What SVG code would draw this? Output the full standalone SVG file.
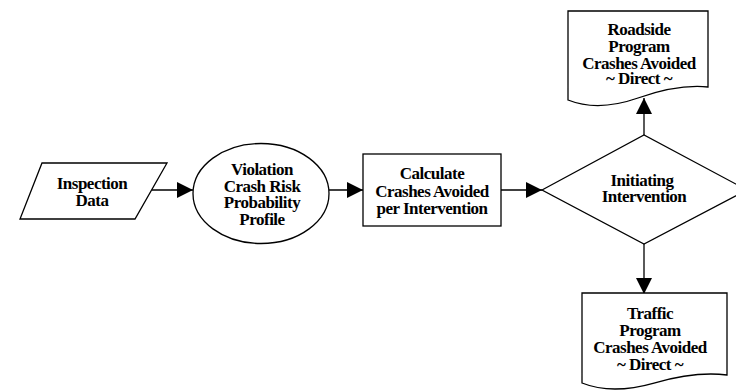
<svg xmlns="http://www.w3.org/2000/svg" width="736" height="390" viewBox="0 0 736 390">
  <style>
    .shape { fill: #ffffff; stroke: #000000; stroke-width: 1.3; }
    .edge { fill: none; stroke: #000000; stroke-width: 1.3; }
    .label { font-family: "Liberation Serif", "Times New Roman", serif; font-weight: bold; font-size: 17px; fill: #000000; text-anchor: middle; letter-spacing: -0.5px; }
  </style>
  <defs>
    <marker id="arrow" markerUnits="userSpaceOnUse" markerWidth="16" markerHeight="16" viewBox="0 0 14 14" refX="14" refY="7" orient="auto">
      <path d="M0,0 L14,7 L0,14 Z" fill="#000000"/>
    </marker>
  </defs>
  <rect width="736" height="390" fill="#ffffff"/>

  <g id="connectors">
    <line class="edge" x1="152" y1="190" x2="193" y2="190" marker-end="url(#arrow)"/>
    <line class="edge" x1="329" y1="190" x2="363" y2="190" marker-end="url(#arrow)"/>
    <line class="edge" x1="501" y1="190" x2="542" y2="190" marker-end="url(#arrow)"/>
    <line class="edge" x1="644" y1="135" x2="644" y2="98" marker-end="url(#arrow)"/>
    <line class="edge" x1="644" y1="244" x2="644" y2="294" marker-end="url(#arrow)"/>
  </g>

  <g id="inspection-data">
    <polygon class="shape" points="42,163 167,163 135,219 20,219"/>
    <text class="label" x="92" y="188.5">Inspection</text>
    <text class="label" x="92" y="205.5">Data</text>
  </g>

  <g id="risk-profile">
    <ellipse class="shape" cx="261" cy="193.5" rx="68" ry="50"/>
    <text class="label" x="262" y="174.5">Violation</text>
    <text class="label" x="262" y="191.5">Crash Risk</text>
    <text class="label" x="262" y="208">Probability</text>
    <text class="label" x="262" y="224.5">Profile</text>
  </g>

  <g id="calculate">
    <rect class="shape" x="363" y="154" width="138" height="72"/>
    <text class="label" x="432" y="179">Calculate</text>
    <text class="label" x="432" y="196.5">Crashes Avoided</text>
    <text class="label" x="432" y="213.5">per Intervention</text>
  </g>

  <g id="initiating-intervention">
    <polygon class="shape" points="542,190 644,135 747,190 644,244"/>
    <text class="label" x="642" y="185.5">Initiating</text>
    <text class="label" x="644" y="201.5">Intervention</text>
  </g>

  <g id="roadside-program">
    <path class="shape" d="M568,100 V11 H708 V87 Q678,84 638,98 Q598,112 568,100 Z"/>
    <text class="label" x="639" y="35">Roadside</text>
    <text class="label" x="639" y="51.5">Program</text>
    <text class="label" x="639" y="68.5">Crashes Avoided</text>
    <text class="label" x="639" y="84">~ Direct ~</text>
  </g>

  <g id="traffic-program">
    <path class="shape" d="M582,383 V293 H727 V375 Q696,371 654,383 Q612,395 582,383 Z"/>
    <text class="label" x="650" y="319">Traffic</text>
    <text class="label" x="650" y="335.5">Program</text>
    <text class="label" x="650" y="353">Crashes Avoided</text>
    <text class="label" x="650" y="370">~ Direct ~</text>
  </g>
</svg>
